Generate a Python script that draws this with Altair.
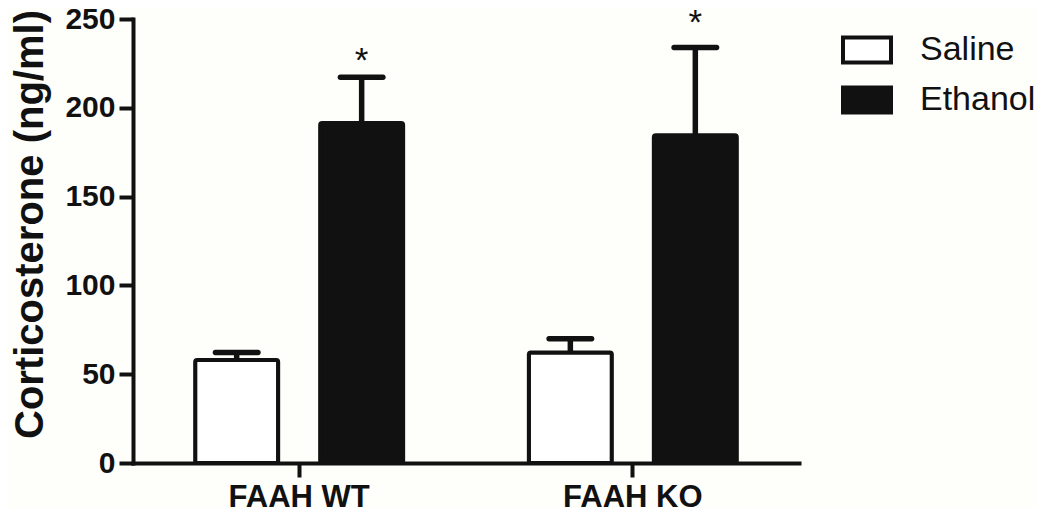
import altair as alt
import pandas as pd

groups = ["FAAH WT", "FAAH WT", "FAAH KO", "FAAH KO"]
treatments = ["Saline", "Ethanol", "Saline", "Ethanol"]
means = [58.0, 191.5, 62.2, 184.6]
errors = [4.2, 25.7, 7.7, 49.3]
stars = ["", "*", "", "*"]
star_y = [None, 226.4, None, 247.8]

group_order = ["FAAH WT", "FAAH KO"]
treat_order = ["Saline", "Ethanol"]
y_ticks = [0, 50, 100, 150, 200, 250]

df = pd.DataFrame({
    "group": groups,
    "treatment": treatments,
    "mean": means,
    "err": errors,
    "star": stars,
    "star_y": star_y,
})
df["upper"] = df["mean"] + df["err"]

INK = "#111111"
FONT = "Liberation Sans"

x_enc = alt.X(
    "group:N",
    sort=group_order,
    scale=alt.Scale(paddingInner=0.364, paddingOuter=0.18),
    axis=alt.Axis(
        title=None, labelAngle=0, labelFont=FONT, labelFontSize=31,
        labelFontWeight="bold", labelColor=INK, labelPadding=5,
        tickSize=14, tickWidth=4, tickColor=INK,
        domainWidth=4, domainColor=INK, domainCap="square",
    ),
)
xo_enc = alt.XOffset(
    "treatment:N", sort=treat_order,
    scale=alt.Scale(paddingInner=0.336, paddingOuter=0.017),
)
y_scale = alt.Scale(domain=[0, 250], nice=False, zero=True)

bars = alt.Chart(df).mark_bar(
    stroke=INK, strokeWidth=4, cornerRadius=2, strokeJoin="round"
).encode(
    x=x_enc,
    xOffset=xo_enc,
    y=alt.Y(
        "mean:Q", scale=y_scale,
        axis=alt.Axis(
            title="Corticosterone (ng/ml)", values=y_ticks, grid=False,
            labelFont=FONT, labelFontSize=30, labelFontWeight="bold",
            labelColor=INK, labelPadding=4,
            tickSize=14, tickWidth=4, tickColor=INK,
            domainWidth=4, domainColor=INK, domainCap="square",
            titleFont=FONT, titleFontSize=40, titleFontWeight="bold",
            titleColor=INK, titleAngle=-90, titleAlign="center",
            titleBaseline="alphabetic", titleX=-91, titleY=205,
        ),
    ),
    fill=alt.Fill(
        "treatment:N", sort=treat_order,
        scale=alt.Scale(domain=treat_order, range=["#ffffff", INK]),
        legend=alt.Legend(
            title=None, orient="none", legendX=708, legendY=5,
            padding=0, symbolType="M-1,-0.52H1V0.52H-1Z", symbolSize=2304,
            symbolStrokeColor=INK, symbolStrokeWidth=4,
            labelFont=FONT, labelFontSize=34, labelColor=INK,
            labelOffset=27, rowPadding=3,
        ),
    ),
)

whisker = alt.Chart(df).mark_rule(color=INK, strokeWidth=5.5).encode(
    x=alt.X("group:N", sort=group_order),
    xOffset=alt.XOffset("treatment:N", sort=treat_order),
    y=alt.Y("mean:Q", scale=y_scale),
    y2="upper:Q",
)

caps = alt.Chart(df).mark_tick(
    color=INK, size=48, thickness=5.5, cornerRadius=2.5, opacity=1
).encode(
    x=alt.X("group:N", sort=group_order),
    xOffset=alt.XOffset("treatment:N", sort=treat_order),
    y=alt.Y("upper:Q", scale=y_scale),
)

star_text = alt.Chart(df).transform_filter(
    "datum.star != ''"
).mark_text(
    font=FONT, fontSize=35, color=INK, baseline="middle", clip=False
).encode(
    x=alt.X("group:N", sort=group_order),
    xOffset=alt.XOffset("treatment:N", sort=treat_order),
    y=alt.Y("star_y:Q", scale=y_scale),
    text="star:N",
)

chart = alt.layer(bars, whisker, caps, star_text).properties(
    width=666, height=444,
    autosize=alt.AutoSizeParams(type="none"),
    padding={"left": 125, "top": 11, "right": 237, "bottom": 45},
    background="#fefefa",
).configure_view(stroke=None).resolve_scale(x="shared")

chart.save("out.html", embed_options={"renderer": "svg", "actions": False})
